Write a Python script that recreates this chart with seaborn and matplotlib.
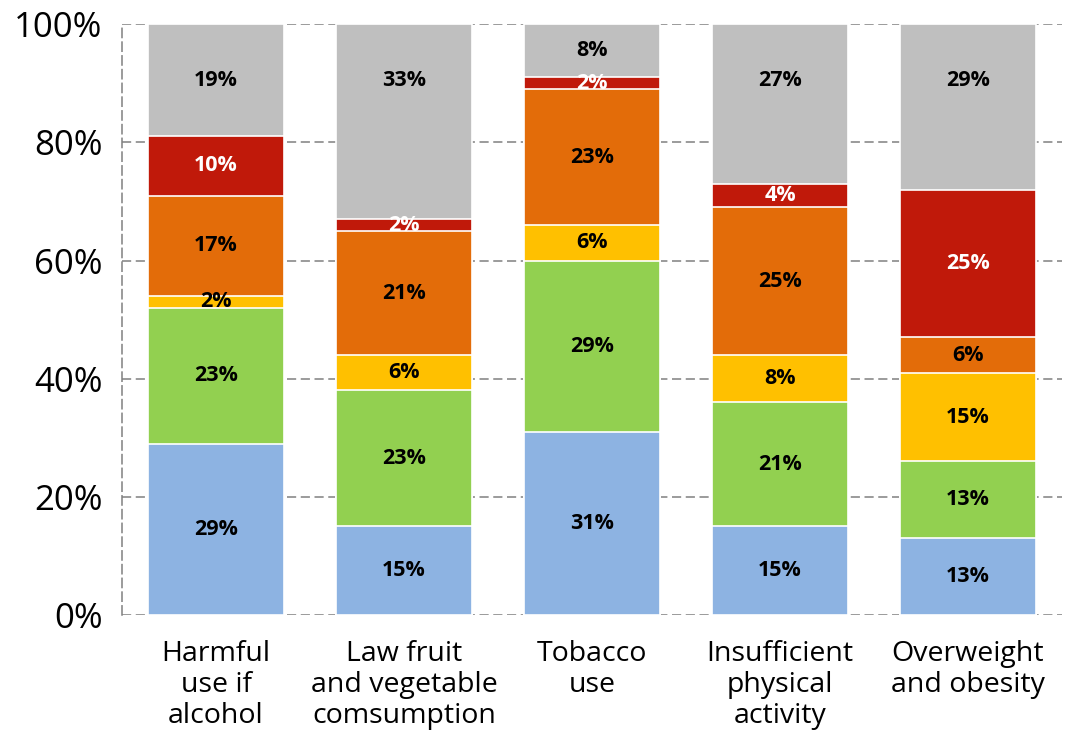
import numpy as np
import pandas as pd
import matplotlib
matplotlib.use("Agg")
import matplotlib.pyplot as plt
import seaborn as sns

# Data (percent shares per risk factor, bottom to top)
categories = ["Harmful\nuse if\nalcohol", "Law fruit\nand vegetable\ncomsumption",
              "Tobacco\nuse", "Insufficient\nphysical\nactivity", "Overweight\nand obesity"]
blue = [29, 15, 31, 15, 13]
green = [23, 23, 29, 21, 13]
yellow = [2, 6, 6, 8, 15]
orange = [17, 21, 23, 25, 6]
red = [10, 2, 2, 4, 25]
gray = [19, 33, 9, 27, 28]          # heights as drawn
gray_text = [19, 33, 8, 27, 29]     # values printed on the gray segments

layers = [blue, green, yellow, orange, red, gray]
colors = ["#8db3e2", "#92d050", "#ffc000", "#e36c09", "#c0190a", "#bfbfbf"]
text_colors = ["black", "black", "black", "black", "white", "black"]
texts = [blue, green, yellow, orange, red, gray_text]

df = pd.DataFrame({"cat": categories})
tops = np.cumsum(np.array(layers, dtype=float), axis=0)

sns.set_style("white")
plt.rcParams["font.family"] = ["Open Sans", "DejaVu Sans"]

fig = plt.figure(figsize=(10.65, 7.33), dpi=100)
ax = fig.add_axes([0.1146, 0.161, 0.8826, 0.806])

# draw cumulative bars from the top down so each layer covers the one above
for i in range(len(layers) - 1, -1, -1):
    df["top"] = tops[i]
    sns.barplot(data=df, x="cat", y="top", color=colors[i], saturation=1,
                width=0.72, edgecolor="white", linewidth=1.2, ax=ax, zorder=3)

# segment labels
for i in range(len(layers)):
    bottoms = tops[i - 1] if i > 0 else np.zeros(len(categories))
    for j in range(len(categories)):
        mid = (bottoms[j] + tops[i][j]) / 2
        if i == len(layers) - 1:
            mid = max(mid, 90.5)
        ax.text(j, mid, f"{texts[i][j]}%", ha="center", va="center",
                fontsize=15.5, fontweight="bold", color=text_colors[i], zorder=5)

ax.set_ylim(0, 100)
ax.set_xlim(-0.5, 4.5)
ax.set_yticks(range(0, 101, 20))
ax.set_yticklabels([f"{v}%" for v in range(0, 101, 20)])
ax.set_xlabel("")
ax.set_ylabel("")
ax.tick_params(axis="y", length=0, pad=14, labelsize=25, colors="black")
ax.tick_params(axis="x", length=0, pad=18, labelsize=20.5, colors="black")
for lab in ax.get_xticklabels():
    lab.set_linespacing(1.15)

ax.grid(axis="y", color="#808080", linestyle=(0, (6, 3)), linewidth=1.1, zorder=0)
ax.grid(axis="x", visible=False)
ax.set_axisbelow(True)
for s in ["top", "right", "bottom"]:
    ax.spines[s].set_visible(False)
ax.spines["left"].set_color("#808080")
ax.spines["left"].set_linestyle((0, (6, 3)))
ax.spines["left"].set_linewidth(1.1)

fig.savefig("out.png", dpi=100)
